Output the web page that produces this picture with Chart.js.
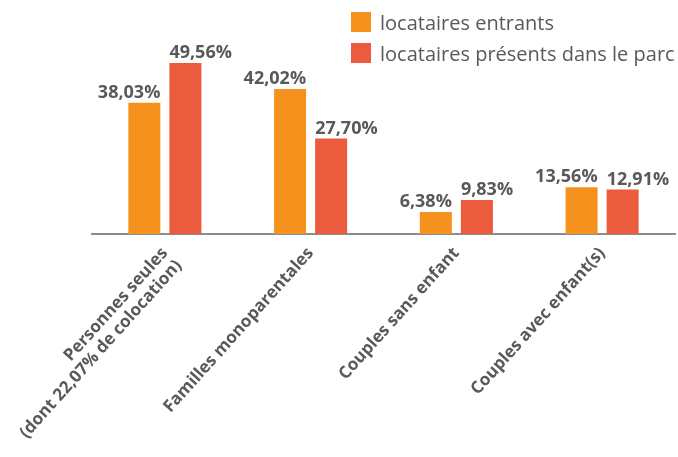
<!DOCTYPE html>
<html lang="fr">
<head>
<meta charset="utf-8">
<title>Composition des ménages</title>
<script src="https://cdn.jsdelivr.net/npm/chart.js@4.4.1/dist/chart.umd.min.js"></script>
<style>
  html, body { margin: 0; padding: 0; background: #ffffff; }
  .wrap { position: relative; width: 678px; height: 457px; }
  .legend {
    position: absolute; left: 351px; top: 12px;
    font-family: 'Open Sans', sans-serif; font-size: 20px; color: #595959;
  }
  .legend__item { display: flex; align-items: center; height: 20px; margin-bottom: 11px; white-space: nowrap; }
  .legend__swatch { width: 20px; height: 20px; margin-right: 9px; flex: none; }
</style>
</head>
<body>
<div class="wrap">
  <canvas id="menagesChart" width="678" height="457"></canvas>
  <div class="legend" id="menagesLegend"></div>
</div>
<script>
/* ------------------------------------------------------------------
   DATA
   ------------------------------------------------------------------ */
var categories = [
  ['Personnes seules', '(dont 22,07% de colocation)'],
  'Familles monoparentales',
  'Couples sans enfant',
  'Couples avec enfant(s)'
];
var seriesNames = ['locataires entrants', 'locataires présents dans le parc'];
var entrants    = [38.03, 42.02, 6.38, 13.56];
var presents    = [49.56, 27.70, 9.83, 12.91];

var COLORS = {
  orange: '#F5921E',
  red:    '#EB5B3D',
  text:   '#595959',
  axis:   '#8C8C8C'
};

function fmtPct(v) {
  return v.toFixed(2).replace('.', ',') + '%';
}

// Value labels: orange ones end at the bar's right edge, red ones start at the left edge
var valueLabels = {
  id: 'valueLabels',
  afterDatasetsDraw: function (chart) {
    var ctx = chart.ctx;
    ctx.save();
    ctx.font = "bold 18px 'Open Sans', sans-serif";
    ctx.fillStyle = COLORS.text;
    ctx.textBaseline = 'bottom';
    chart.data.datasets.forEach(function (ds, di) {
      var meta = chart.getDatasetMeta(di);
      meta.data.forEach(function (bar, i) {
        var half = bar.width / 2;
        if (di === 0) {
          ctx.textAlign = 'right';
          ctx.fillText(fmtPct(ds.data[i]), bar.x + half, bar.y - 1);
        } else {
          ctx.textAlign = 'left';
          ctx.fillText(fmtPct(ds.data[i]), bar.x - half, bar.y - 1);
        }
      });
    });
    ctx.restore();
  }
};

function buildLegend(containerId, names, colors) {
  var container = document.getElementById(containerId);
  names.forEach(function (name, i) {
    var item = document.createElement('div');
    item.className = 'legend__item';
    var sw = document.createElement('span');
    sw.className = 'legend__swatch';
    sw.style.background = colors[i];
    var txt = document.createElement('span');
    txt.textContent = name;
    item.appendChild(sw);
    item.appendChild(txt);
    container.appendChild(item);
  });
}

new Chart(document.getElementById('menagesChart'), {
  type: 'bar',
  data: {
    labels: categories,
    datasets: [
      { label: seriesNames[0], data: entrants, backgroundColor: COLORS.orange,
        borderWidth: 0, barPercentage: 0.78, categoryPercentage: 0.563 },
      { label: seriesNames[1], data: presents, backgroundColor: COLORS.red,
        borderWidth: 0, barPercentage: 0.78, categoryPercentage: 0.563 }
    ]
  },
  options: {
    responsive: false,
    animation: false,
    layout: { padding: { top: 27, left: 92, right: 3, bottom: 0 } },
    plugins: {
      legend: { display: false },
      tooltip: { enabled: false }
    },
    scales: {
      x: {
        grid: { display: false },
        border: { display: true, color: COLORS.axis, width: 2 },
        ticks: {
          color: COLORS.text,
          font: { family: "'Open Sans', sans-serif", size: 17, weight: 'bold', lineHeight: 1.1 },
          minRotation: 48,
          maxRotation: 48,
          padding: 2
        },
        // long rotated labels may overflow the left edge, as in the original
        afterFit: function (scale) {
          scale.height = 223;
          scale.paddingLeft = 0;
          scale.paddingRight = 0;
        }
      },
      y: {
        display: false,
        min: 0,
        max: 60
      }
    }
  },
  plugins: [valueLabels]
});

buildLegend('menagesLegend', seriesNames, [COLORS.orange, COLORS.red]);
</script>
</body>
</html>
